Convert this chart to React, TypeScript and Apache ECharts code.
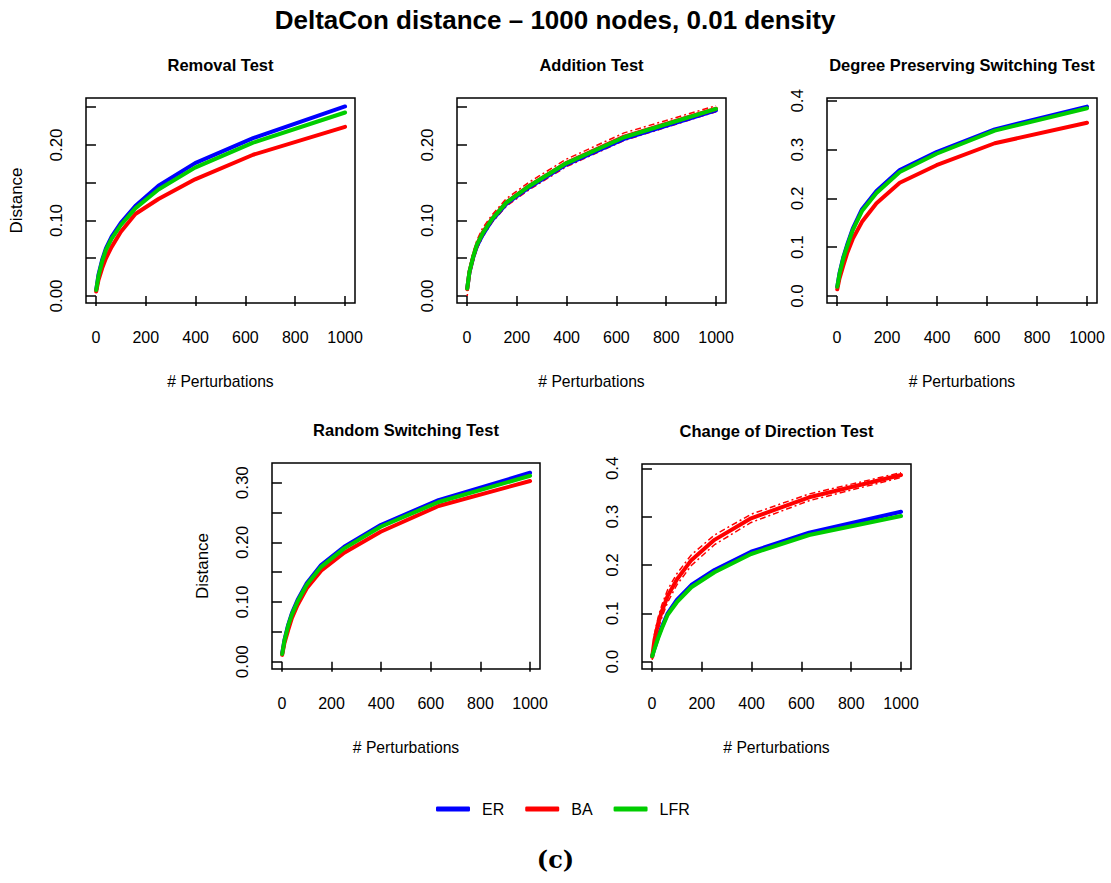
import React, { useEffect, useRef } from "react";
import * as echarts from "echarts";

// Perturbation counts at which each distance was sampled
const perturbations = [1, 10, 25, 40, 63, 100, 158, 251, 398, 631, 1000];

const panelTitles = [
  "Removal Test",
  "Addition Test",
  "Degree Preserving Switching Test",
  "Random Switching Test",
  "Change of Direction Test",
];

const modelNames = ["ER", "BA", "LFR"];
const modelColors = ["#0000ff", "#ff0000", "#00cd00"];

// Removal Test
const removalER = [0.008, 0.028, 0.048, 0.063, 0.0785, 0.097, 0.119, 0.146, 0.176, 0.209, 0.251];
const removalBA = [0.006, 0.021, 0.037, 0.05, 0.065, 0.085, 0.1086, 0.1285, 0.1545, 0.187, 0.224];
const removalLFR = [0.008, 0.026, 0.046, 0.061, 0.076, 0.094, 0.116, 0.141, 0.17, 0.203, 0.243];

// Addition Test
const additionER = [0.01, 0.031, 0.051, 0.066, 0.081, 0.1, 0.122, 0.144, 0.174, 0.208, 0.246];
const additionBA = [0.009, 0.032, 0.052, 0.068, 0.084, 0.102, 0.124, 0.146, 0.176, 0.211, 0.248];
const additionLFR = [0.01, 0.032, 0.052, 0.068, 0.083, 0.1016, 0.1236, 0.1457, 0.1757, 0.2102, 0.2477];
const additionBAUpper = [0.016, 0.038, 0.058, 0.074, 0.09, 0.107, 0.129, 0.151, 0.181, 0.216, 0.252];
const additionBALower = [0.0, 0.026, 0.046, 0.062, 0.078, 0.097, 0.119, 0.141, 0.171, 0.206, 0.244];

// Degree Preserving Switching Test
const degreeER = [0.019, 0.0465, 0.079, 0.104, 0.138, 0.178, 0.215, 0.258, 0.295, 0.3415, 0.388];
const degreeBA = [0.0137, 0.036, 0.062, 0.087, 0.117, 0.152, 0.19, 0.232, 0.268, 0.313, 0.355];
const degreeLFR = [0.019, 0.045, 0.077, 0.101, 0.135, 0.174, 0.211, 0.254, 0.2915, 0.3388, 0.3846];

// Random Switching Test
const randomER = [0.014, 0.036, 0.0615, 0.081, 0.1034, 0.1314, 0.162, 0.1928, 0.2291, 0.271, 0.3168];
const randomBA = [0.0115, 0.031, 0.053, 0.073, 0.095, 0.123, 0.1525, 0.1827, 0.2179, 0.261, 0.3029];
const randomLFR = [0.013, 0.035, 0.06, 0.079, 0.101, 0.129, 0.159, 0.19, 0.2263, 0.2677, 0.3118];

// Change of Direction Test
const directionER = [0.0115, 0.0277, 0.052, 0.0724, 0.1, 0.1276, 0.1586, 0.1897, 0.2275, 0.2668, 0.3102];
const directionBA = [0.01, 0.045, 0.0794, 0.105, 0.136, 0.17, 0.21, 0.252, 0.2966, 0.34, 0.3862];
const directionLFR = [0.0115, 0.026, 0.049, 0.069, 0.097, 0.123, 0.154, 0.185, 0.2228, 0.262, 0.3013];
const directionBAUpper = [0.016, 0.057, 0.092, 0.118, 0.149, 0.182, 0.221, 0.262, 0.305, 0.347, 0.391];
const directionBALower = [0.004, 0.034, 0.067, 0.092, 0.123, 0.159, 0.199, 0.242, 0.288, 0.333, 0.381];

// Tick values
const xTicks = [0, 200, 400, 600, 800, 1000];
const yTicksFine = [0, 0.05, 0.1, 0.15, 0.2, 0.25];
const yLabelsFine = [0, 0.1, 0.2];
const yTicksCoarse = [0, 0.1, 0.2, 0.3, 0.4];
const yTicksRandom = [0, 0.05, 0.1, 0.15, 0.2, 0.25, 0.3];
const yLabelsRandom = [0, 0.1, 0.2, 0.3];

const FONT = "'Liberation Sans', Arial, Helvetica, sans-serif";

type Panel = {
  title: string;
  box: [number, number, number, number]; // left, top, width, height
  yRange: [number, number];
  yTicks: number[];
  yLabels: number[];
  digits: number;
  showYName: boolean;
  lines: number[][];
  bounds?: number[][];
};

const panels: Panel[] = [
  {
    title: panelTitles[0],
    box: [86, 98, 269, 205],
    yRange: [-0.0093, 0.2622],
    yTicks: yTicksFine,
    yLabels: yLabelsFine,
    digits: 2,
    showYName: true,
    lines: [removalER, removalBA, removalLFR],
  },
  {
    title: panelTitles[1],
    box: [457, 98, 269, 205],
    yRange: [-0.0093, 0.2622],
    yTicks: yTicksFine,
    yLabels: yLabelsFine,
    digits: 2,
    showYName: false,
    lines: [additionER, additionBA, additionLFR],
    bounds: [additionBAUpper, additionBALower],
  },
  {
    title: panelTitles[2],
    box: [827, 98, 270, 205],
    yRange: [-0.0143, 0.4057],
    yTicks: yTicksCoarse,
    yLabels: yTicksCoarse,
    digits: 1,
    showYName: false,
    lines: [degreeER, degreeBA, degreeLFR],
  },
  {
    title: panelTitles[3],
    box: [272, 463, 268, 206],
    yRange: [-0.0122, 0.3331],
    yTicks: yTicksRandom,
    yLabels: yLabelsRandom,
    digits: 2,
    showYName: true,
    lines: [randomER, randomBA, randomLFR],
  },
  {
    title: panelTitles[4],
    box: [642, 464, 269, 205],
    yRange: [-0.0151, 0.4089],
    yTicks: yTicksCoarse,
    yLabels: yTicksCoarse,
    digits: 1,
    showYName: false,
    lines: [directionER, directionBA, directionLFR],
    bounds: [directionBAUpper, directionBALower],
  },
];

function pairs(ys: number[]) {
  return perturbations.map((x, i) => [x, ys[i]]);
}

function buildOption() {
  const grid: any[] = [];
  const xAxis: any[] = [];
  const yAxis: any[] = [];
  const series: any[] = [];
  const title: any[] = [
    {
      text: "DeltaCon distance \u2013 1000 nodes, 0.01 density",
      left: 555,
      top: 7,
      padding: 0,
      textAlign: "center",
      textStyle: { fontFamily: FONT, fontSize: 26, fontWeight: "bold", color: "#000" },
    },
  ];

  panels.forEach((p, i) => {
    const [left, top, width, height] = p.box;
    grid.push({
      left,
      top,
      width,
      height,
      show: true,
      borderColor: "#000",
      borderWidth: 1.5,
      backgroundColor: "transparent",
      containLabel: false,
    });
    title.push({
      text: p.title,
      left: left + width / 2,
      top: top - 42,
      padding: 0,
      textAlign: "center",
      textStyle: { fontFamily: FONT, fontSize: 16.5, fontWeight: "bold", color: "#000" },
    });
    xAxis.push({
      type: "value",
      gridIndex: i,
      min: -40,
      max: 1040,
      name: "# Perturbations",
      nameLocation: "middle",
      nameGap: 70,
      nameTextStyle: { fontFamily: FONT, fontSize: 15.7, color: "#000" },
      axisLine: { show: false },
      splitLine: { show: false },
      axisTick: {
        show: true,
        length: 10,
        customValues: xTicks,
        lineStyle: { color: "#000", width: 1.5 },
      },
      axisLabel: {
        customValues: xTicks,
        margin: 26,
        fontFamily: FONT,
        fontSize: 16,
        color: "#000",
        formatter: (v: number) => String(v),
      },
    });
    yAxis.push({
      type: "value",
      gridIndex: i,
      min: p.yRange[0],
      max: p.yRange[1],
      name: p.showYName ? "Distance" : "",
      nameLocation: "middle",
      nameGap: 61,
      nameTextStyle: { fontFamily: FONT, fontSize: 17, color: "#000" },
      axisLine: { show: false },
      splitLine: { show: false },
      axisTick: {
        show: true,
        length: 10,
        customValues: p.yTicks,
        lineStyle: { color: "#000", width: 1.5 },
      },
      axisLabel: {
        customValues: p.yLabels,
        rotate: 90,
        margin: 21,
        fontFamily: FONT,
        fontSize: 17,
        color: "#000",
        formatter: (v: number) => v.toFixed(p.digits),
      },
    });

    if (p.bounds) {
      p.bounds.forEach((b, k) => {
        series.push({
          name: k === 0 ? "BA upper" : "BA lower",
          type: "line",
          xAxisIndex: i,
          yAxisIndex: i,
          data: pairs(b),
          symbol: "none",
          silent: true,
          lineStyle: { color: modelColors[1], width: 1.5, type: [2, 3, 6, 3] },
          z: 1,
        });
      });
    }
    p.lines.forEach((ys, k) => {
      series.push({
        name: modelNames[k],
        type: "line",
        xAxisIndex: i,
        yAxisIndex: i,
        data: pairs(ys),
        symbol: "none",
        color: modelColors[k],
        lineStyle: { color: modelColors[k], width: 4, cap: "round", join: "round" },
        z: 2 + k,
      });
    });
  });

  return {
    animation: false,
    backgroundColor: "#fff",
    textStyle: { fontFamily: FONT },
    title,
    grid,
    xAxis,
    yAxis,
    series,
    legend: {
      data: modelNames,
      left: 436,
      top: 801,
      padding: 0,
      icon: "roundRect",
      itemWidth: 34,
      itemHeight: 5,
      itemGap: 21,
      selectedMode: false,
      textStyle: { fontFamily: FONT, fontSize: 16, color: "#000", padding: [0, 0, 0, 7] },
    },
    graphic: [
      {
        type: "text",
        left: "center",
        top: 847,
        style: {
          text: "(c)",
          font: "bold 24px 'DejaVu Serif', 'Liberation Serif', serif",
          fill: "#000",
        },
      },
    ],
  };
}

export default function App() {
  const ref = useRef<HTMLDivElement>(null);
  useEffect(() => {
    if (!ref.current) return;
    const chart = echarts.init(ref.current, undefined, { renderer: "svg" });
    chart.setOption(buildOption() as any);
    return () => chart.dispose();
  }, []);
  return (
    <div
      ref={ref}
      style={{ position: "fixed", left: 0, top: 0, width: 1111, height: 883, background: "#fff" }}
    />
  );
}
